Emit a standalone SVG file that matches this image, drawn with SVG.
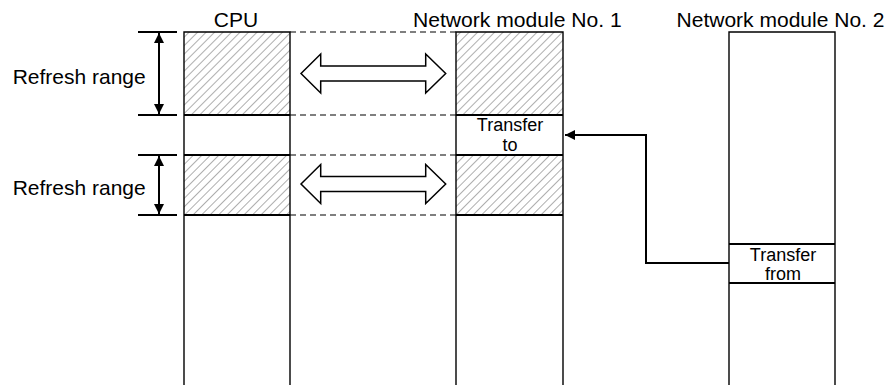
<svg xmlns="http://www.w3.org/2000/svg" width="894" height="385" viewBox="0 0 894 385">
<style>
  text { font-family: "Liberation Sans", Arial, sans-serif; fill: #000; }
  .t { font-size: 21px; }
  .s { font-size: 18px; text-anchor: middle; }
  .col { fill: none; stroke: #000; stroke-width: 1.4; }
  .sep { stroke: #000; stroke-width: 2; }
  .dash { stroke: #000; stroke-width: 1.2; stroke-dasharray: 6 4; }
  .tick { stroke: #000; stroke-width: 2; }
  .dim { stroke: #000; stroke-width: 2; fill: none; }
  .big { fill: #fff; stroke: #000; stroke-width: 1.5; stroke-linejoin: miter; }
  .conn { fill: none; stroke: #000; stroke-width: 2; }
</style>
<defs>
  <pattern id="hatch" patternUnits="userSpaceOnUse" width="6" height="10" patternTransform="rotate(45)">
    <line x1="0" y1="0" x2="0" y2="10" stroke="#333" stroke-width="0.8"/>
  </pattern>
  <marker id="ah" viewBox="0 0 10 10" refX="10" refY="5" markerWidth="10" markerHeight="10" markerUnits="userSpaceOnUse" orient="auto-start-reverse">
    <path d="M0,0 L10,5 L0,10 Z" fill="#000"/>
  </marker>
</defs>

<g id="titles">
  <text class="t" x="236" y="27" text-anchor="middle">CPU</text>
  <text class="t" x="413" y="27" textLength="208.7" lengthAdjust="spacingAndGlyphs">Network module No. 1</text>
  <text class="t" x="676.5" y="27" textLength="208" lengthAdjust="spacingAndGlyphs">Network module No. 2</text>
</g>

<g id="refresh-range-1">
  <line class="tick" x1="138" y1="32" x2="177" y2="32"/>
  <line class="tick" x1="138" y1="115" x2="177" y2="115"/>
  <line class="dim" x1="159" y1="33" x2="159" y2="114" marker-start="url(#ah)" marker-end="url(#ah)"/>
  <text class="t" x="12.7" y="84" textLength="133" lengthAdjust="spacingAndGlyphs">Refresh range</text>
</g>

<g id="refresh-range-2">
  <line class="tick" x1="138" y1="155" x2="177" y2="155"/>
  <line class="tick" x1="138" y1="215" x2="177" y2="215"/>
  <line class="dim" x1="159" y1="156" x2="159" y2="214" marker-start="url(#ah)" marker-end="url(#ah)"/>
  <text class="t" x="12.7" y="195" textLength="133" lengthAdjust="spacingAndGlyphs">Refresh range</text>
</g>

<g id="cpu">
  <rect x="184" y="32" width="106" height="83" fill="url(#hatch)"/>
  <rect x="184" y="155" width="106" height="60" fill="url(#hatch)"/>
  <polyline class="col" points="184,386 184,32 290,32 290,386"/>
  <line class="sep" x1="184" y1="115" x2="290" y2="115"/>
  <line class="sep" x1="184" y1="155" x2="290" y2="155"/>
  <line class="sep" x1="184" y1="215" x2="290" y2="215"/>
</g>

<g id="network-module-1">
  <rect x="456" y="32" width="107" height="83" fill="url(#hatch)"/>
  <rect x="456" y="155" width="107" height="60" fill="url(#hatch)"/>
  <polyline class="col" points="456,386 456,32 563,32 563,386"/>
  <line class="sep" x1="456" y1="115" x2="563" y2="115"/>
  <line class="sep" x1="456" y1="155" x2="563" y2="155"/>
  <line class="sep" x1="456" y1="215" x2="563" y2="215"/>
  <text class="s" x="510" y="131">Transfer</text>
  <text class="s" x="510" y="151">to</text>
</g>

<g id="network-module-2">
  <polyline class="col" points="729,386 729,32 835,32 835,386"/>
  <line class="sep" x1="729" y1="244" x2="835" y2="244"/>
  <line class="sep" x1="729" y1="283" x2="835" y2="283"/>
  <text class="s" x="783" y="261">Transfer</text>
  <text class="s" x="783" y="280">from</text>
</g>

<g id="connectors">
  <line class="dash" x1="290" y1="32" x2="456" y2="32"/>
  <line class="dash" x1="290" y1="115" x2="456" y2="115"/>
  <line class="dash" x1="290" y1="155" x2="456" y2="155"/>
  <line class="dash" x1="290" y1="215" x2="456" y2="215"/>
  <path class="big" d="M301,73.5 L320.7,54 L320.7,66 L425.7,66 L425.7,54 L445.7,73.5 L425.7,93 L425.7,81 L320.7,81 L320.7,93 Z"/>
  <path class="big" d="M301,184 L320.7,164.5 L320.7,176.5 L425.7,176.5 L425.7,164.5 L445.7,184 L425.7,203.5 L425.7,191.5 L320.7,191.5 L320.7,203.5 Z"/>
  <polyline class="conn" points="729,263 646,263 646,135 565,135" marker-end="url(#ah)"/>
</g>
</svg>
